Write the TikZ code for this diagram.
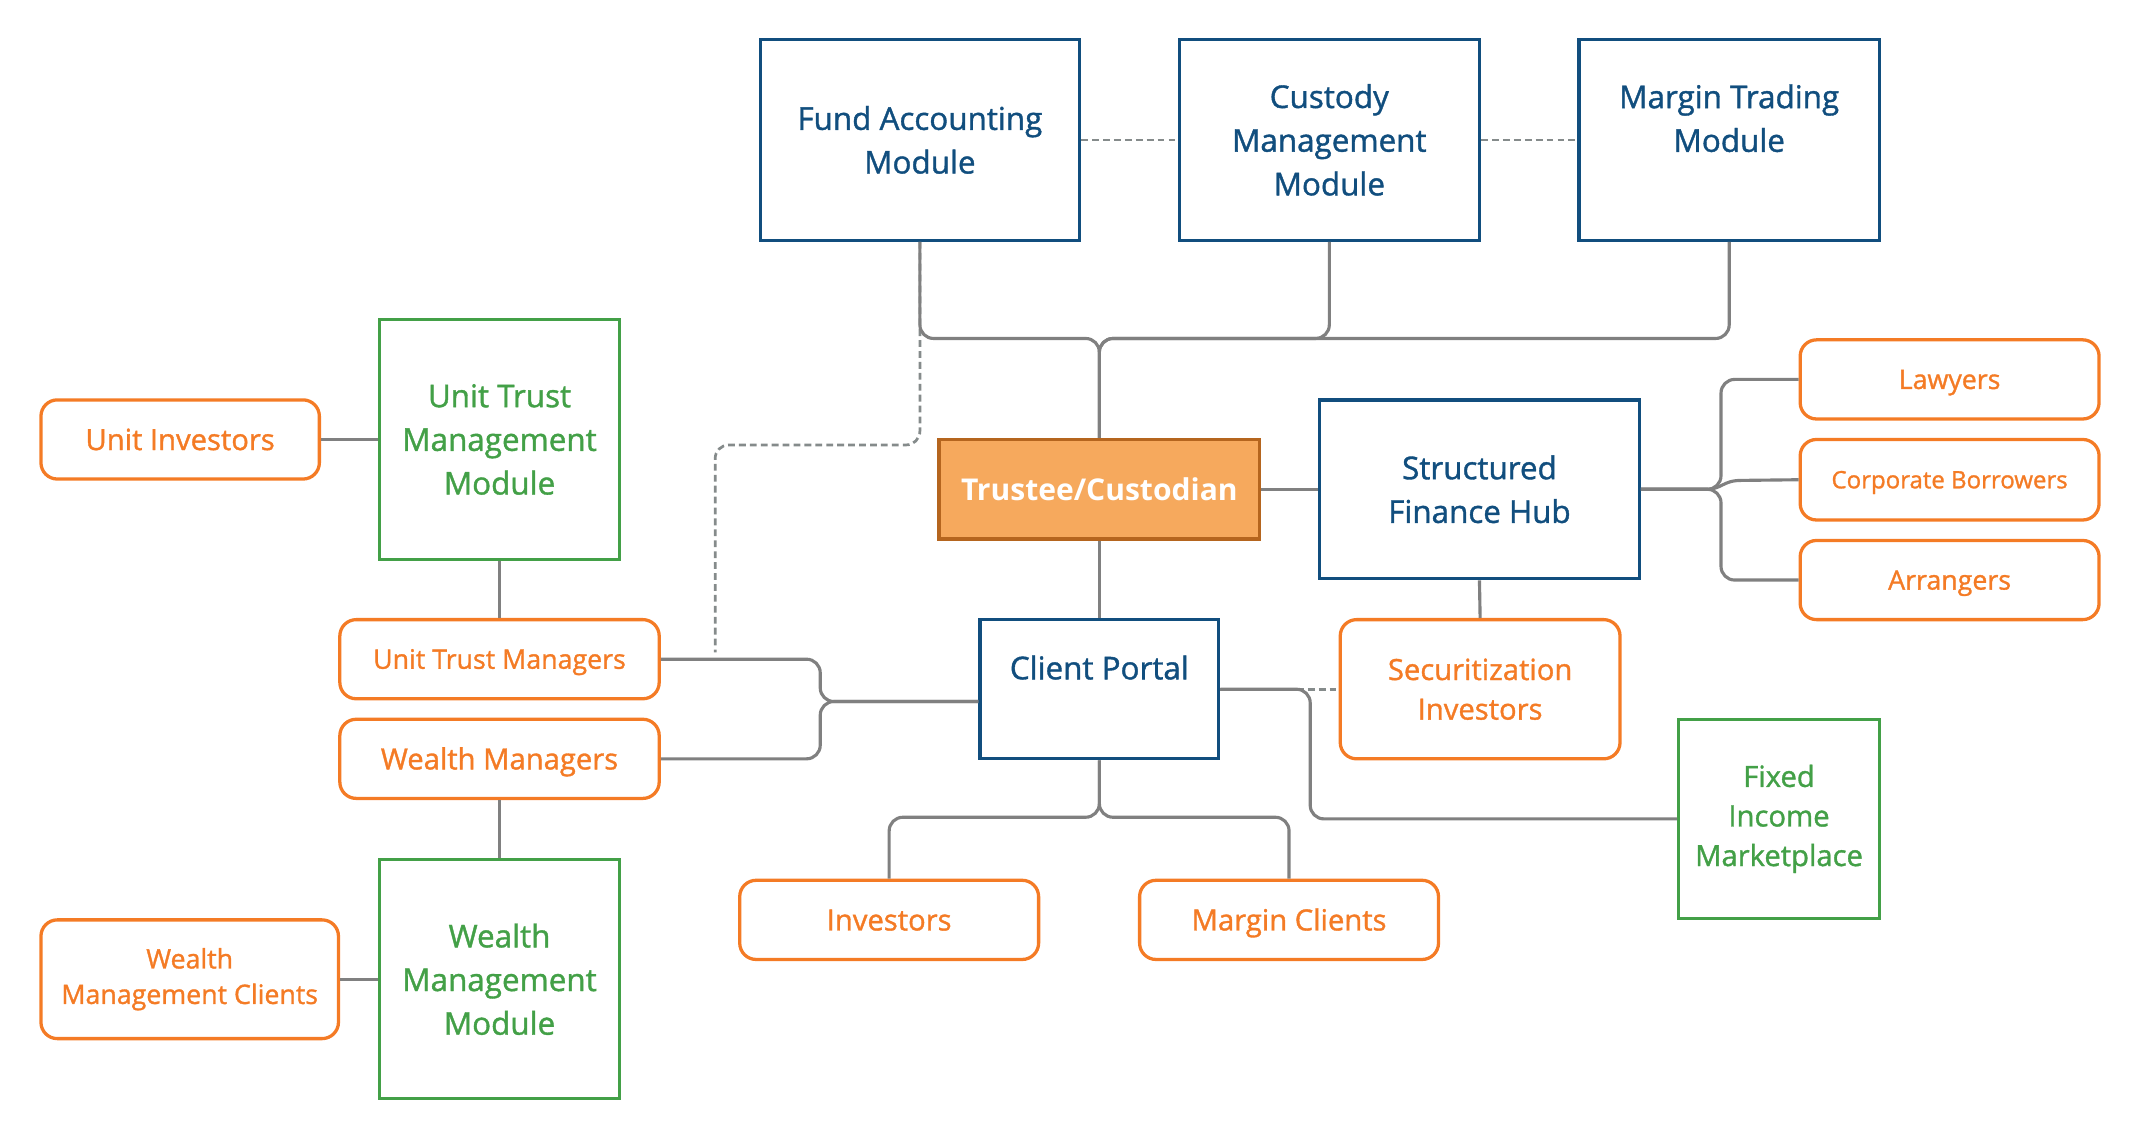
\documentclass[tikz,border=0pt]{standalone}
\usepackage{fontspec}
\setmainfont{Open Sans}[BoldFont={Open Sans},BoldFeatures={FakeBold=1.2}]
\newfontfamily\tcfamily{Open Sans}
\usetikzlibrary{calc}
\definecolor{myblue}{HTML}{114E7E}
\definecolor{mygreen}{HTML}{43A047}
\definecolor{myorange}{HTML}{F47B25}
\definecolor{tfill}{HTML}{F6A95D}
\definecolor{tborder}{HTML}{B5651E}
\definecolor{conngray}{HTML}{808080}
\definecolor{dashgray}{HTML}{858B8B}
\begin{document}
\begin{tikzpicture}[x=1pt,y=-1pt,
  bluebox/.style={draw=myblue,line width=2.4pt,text=myblue,align=center,inner sep=0pt,
     font=\fontsize{23}{32}\selectfont\bfseries},
  greenbox/.style={draw=mygreen,line width=2.4pt,text=mygreen,align=center,inner sep=0pt,
     font=\fontsize{23}{32}\selectfont\bfseries},
  orbox/.style={draw=myorange,line width=2.4pt,text=myorange,align=center,inner sep=0pt,
     rounded corners=12pt,font=\fontsize{21.4}{29}\selectfont\bfseries},
  olA/.style={text height=20.5pt,text depth=5pt},
  olB/.style={text height=19pt,text depth=5pt},
  olC/.style={text height=17pt,text depth=4.4pt},
  conn/.style={draw=conngray,line width=2.3pt,rounded corners=10pt},
  dconn/.style={draw=dashgray,line width=2pt,dash pattern=on 5pt off 3pt,rounded corners=10pt}]
\useasboundingbox (0,0) rectangle (1568,835);

% top modules
\node[bluebox,minimum width=234,minimum height=147] (fam) at (674,102.5) {Fund Accounting\\Module};
\node[bluebox,minimum width=220,minimum height=147] (cmm) at (974,102.5) {Custody\\Management\\Module};
\node[bluebox,minimum width=220,minimum height=147] (mtm) at (1267,102.5) {Margin Trading\\Module\\\mbox{}};

% centre
\node[draw=tborder,fill=tfill,line width=2.4pt,text=white,inner sep=0pt,minimum width=235,minimum height=73,
  text height=21pt,text depth=5.3pt,
  font=\tcfamily\fontsize{22}{30}\selectfont\bfseries] (tc) at (805.5,358.5) {Trustee/Custodian};
\node[bluebox,minimum width=234,minimum height=131] (sfh) at (1084,358.5) {Structured\\Finance Hub};
\node[bluebox,minimum width=175,minimum height=102] (cp) at (805.5,505) {Client Portal\\\mbox{}};
\node[orbox,minimum width=205,minimum height=102] (si) at (1084.5,505) {Securitization\\Investors};
\node[greenbox,minimum width=147,minimum height=146,font=\fontsize{21.4}{29}\selectfont\bfseries] (fim) at (1303.5,600) {Fixed\\Income\\Marketplace};

% right fan
\node[orbox,olB,minimum width=219,minimum height=58,font=\fontsize{19.6}{26}\selectfont\bfseries] (law) at (1428.5,278) {Lawyers};
\node[orbox,olC,minimum width=219,minimum height=59,font=\fontsize{17.6}{24}\selectfont\bfseries] (cb) at (1428.5,351.5) {Corporate Borrowers};
\node[orbox,olB,minimum width=219,minimum height=58,font=\fontsize{19.6}{26}\selectfont\bfseries] (arr) at (1428.5,425) {Arrangers};

% bottom
\node[orbox,olA,minimum width=219,minimum height=58] (inv) at (651.5,674) {Investors};
\node[orbox,olA,minimum width=219,minimum height=58] (mc) at (944.5,674) {Margin Clients};

% left
\node[greenbox,minimum width=176,minimum height=176] (utmm) at (366,322) {Unit Trust\\Management\\Module};
\node[orbox,olA,minimum width=204,minimum height=58] (ui) at (132,322) {Unit Investors};
\node[orbox,olB,minimum width=234,minimum height=58,font=\fontsize{19.6}{26}\selectfont\bfseries] (utm) at (366,483) {Unit Trust Managers};
\node[orbox,olA,minimum width=234,minimum height=58] (wm) at (366,556) {Wealth Managers};
\node[greenbox,minimum width=176,minimum height=175] (wmm) at (366,717.5) {Wealth\\Management\\Module};
\node[orbox,minimum width=218,minimum height=87,font=\fontsize{19.6}{26}\selectfont\bfseries] (wmc) at (139,717.5) {Wealth\\Management Clients};

% junction coordinates
\coordinate (jt) at (805.5,248);
\coordinate (dA) at (524,326);
\coordinate (dEnd) at (524,478);
\coordinate (jl) at (601,514);
\coordinate (jr) at (960,600);
\coordinate (jf) at (1261,358.5);
\coordinate (cbA) at (1250,358.5);
\coordinate (cbB) at (1276,352);

% dashed links
\draw[dconn] (fam.east) -- (cmm.west);
\draw[dconn] (cmm.east) -- (mtm.west);
\draw[dconn] (fam.south) |- (dA) -- (dEnd);
\draw[dconn] (cp.east) -- (si.west);

% top tree
\draw[conn] (fam.south) |- (jt) -- (tc.north);
\draw[conn] (cmm.south) |- (jt) -- (tc.north);
\draw[conn] (mtm.south) |- (jt) -- (tc.north);

% centre links
\draw[conn] (tc.east) -- (sfh.west);
\draw[conn] (tc.south) -- (cp.north);
\draw[conn] (sfh.south) -- (si.north);

% right fan
\draw[conn] (sfh.east) -| (jf |- law.west) -- (law.west);
\draw[conn] (sfh.east) -| (jf |- arr.west) -- (arr.west);
\draw[draw=conngray,line width=2.3pt] (sfh.east) -- (cbA) .. controls (1262,358.5) and (1262,352) .. (cbB) -- (cb.west);

% client portal links
\draw[conn] (utm.east) -| (jl) -- (cp.west |- jl);
\draw[conn] (wm.east) -| (jl) -- (cp.west |- jl);
\draw[conn] (cp.east) -| (jr) -- (fim.west);
\draw[conn] (cp.south) |- ($(inv.north)+(0,-45)$) -- (inv.north);
\draw[conn] (cp.south) |- ($(mc.north)+(0,-45)$) -- (mc.north);

% left links
\draw[conn] (ui.east) -- (utmm.west);
\draw[conn] (utmm.south) -- (utm.north);
\draw[conn] (wm.south) -- (wmm.north);
\draw[conn] (wmc.east) -- (wmm.west);
\end{tikzpicture}
\end{document}
